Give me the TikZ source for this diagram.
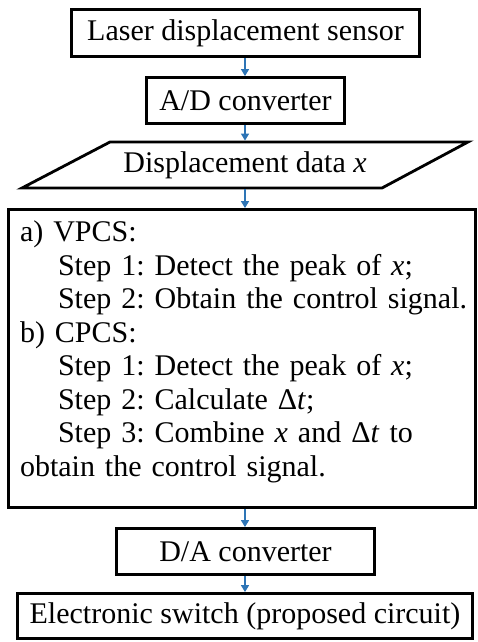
\documentclass[tikz,border=0pt]{standalone}
\usepackage{fontspec}
\setmainfont{Liberation Serif}
\usetikzlibrary{arrows.meta}
\definecolor{arrowblue}{RGB}{46,117,182}
\tikzset{
  box/.style={draw=black, line width=2.8pt, rectangle, inner sep=0pt, align=center,
    font=\fontsize{30}{33.5}\selectfont\frenchspacing},
  flow/.style={draw=arrowblue, line width=1.4pt, -{Triangle[width=8pt,length=7pt]}},
  para/.style={draw=black, line width=2.8pt, line join=miter}
}
\newcommand{\stepline}[1]{\hspace*{38pt}\mbox{#1}}
\begin{document}
\begin{tikzpicture}[x=1pt,y=-1pt]
\useasboundingbox (0,0) rectangle (477,642);
\node[box, minimum width=348pt, minimum height=47pt] (sensor) at (245.5,33) {Laser displacement sensor};
\node[box, minimum width=198pt, minimum height=46pt] (ad) at (245.5,100.5) {A/D converter};
% parallelogram
\coordinate (ptl) at (110,142);
\coordinate (ptr) at (468,142);
\coordinate (pbr) at (382,188);
\coordinate (pbl) at (22,188);
\draw[para] (ptl) -- (ptr) -- (pbr) -- (pbl) -- cycle;
\node[font=\fontsize{30}{33.5}\selectfont, inner sep=0pt] (data) at (245,165) {Displacement data \textit{x}};
\coordinate (dataTop) at (245,140.6);
\coordinate (dataBot) at (245,189.4);
\node[box, minimum width=467pt, minimum height=298pt, inner xsep=11.5pt, text width=444pt, align=left] (proc) at (242,358.5)
{a) VPCS:\\
\stepline{Step 1: Detect the peak of \textit{x};}\\
\stepline{Step 2: Obtain the control signal.}\\
b) CPCS:\\
\stepline{Step 1: Detect the peak of \textit{x};}\\
\stepline{Step 2: Calculate Δ\textit{t};}\\
\stepline{Step 3: Combine \textit{x} and Δ\textit{t} to}\\
obtain the control signal.\rule[-20pt]{0pt}{1pt}};
\node[box, minimum width=258pt, minimum height=46pt] (da) at (245.5,551.5) {D/A converter};
\node[box, minimum width=455pt, minimum height=45pt] (sw) at (245,616) {Electronic switch (proposed circuit)};
\draw[flow] (sensor.south -| 245,0) -- (ad.north -| 245,0);
\draw[flow] (ad.south -| 245,0) -- (dataTop);
\draw[flow] (dataBot) -- (proc.north -| 245,0);
\draw[flow] (proc.south -| 245,0) -- (da.north -| 245,0);
\draw[flow] (da.south -| 245,0) -- (sw.north -| 245,0);
\end{tikzpicture}
\end{document}
